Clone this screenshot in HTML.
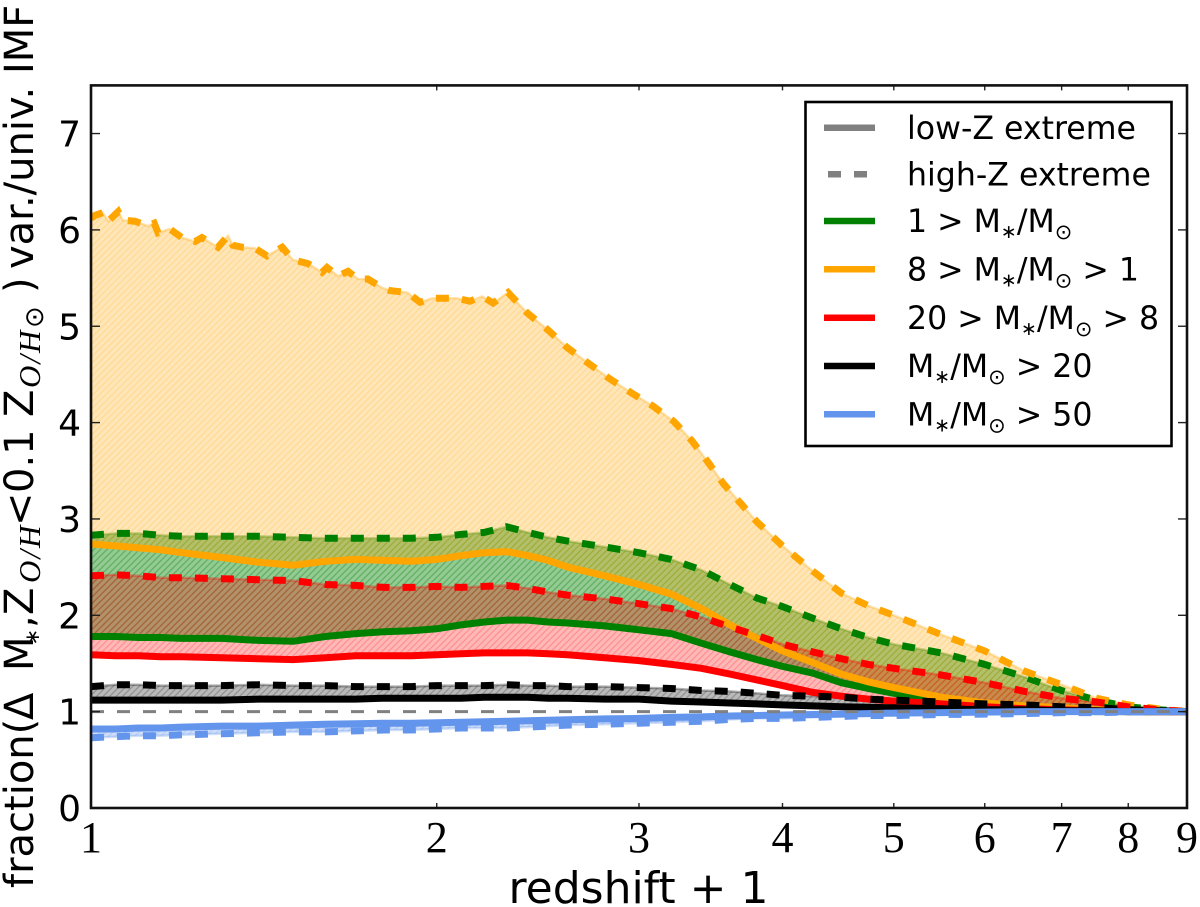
<!DOCTYPE html>
<html lang="en">
<head>
<meta charset="utf-8">
<title>Fraction of stellar mass by redshift</title>
<style>
html,body{margin:0;padding:0;background:#fff;width:1200px;height:907px;overflow:hidden}
svg{display:block;position:absolute;left:0;top:0}
text{font-family:"DejaVu Sans","Liberation Sans",sans-serif;fill:#000}
.xt{font-family:"Liberation Serif",serif;font-size:44px;text-anchor:middle}
.yt{font-size:36px;text-anchor:end}
.lg{font-size:31.6px}
.sub{font-size:21px}
.st{font-size:19px}
.it{font-family:"Liberation Serif",serif;font-style:italic;font-size:31px;letter-spacing:2px}
</style>
</head>
<body>
<svg id="chart" width="1200" height="907" viewBox="0 0 1200 907" xmlns="http://www.w3.org/2000/svg">
<defs>
<clipPath id="axes-clip"><rect x="91" y="85.4" width="1096" height="722.6"/></clipPath>
<pattern id="h-green" patternUnits="userSpaceOnUse" width="6.5" height="6.5"><rect width="6.5" height="6.5" fill="#008000" fill-opacity="0.42"/><path d="M-1,1 l2,-2 M0,6.5 l6.5,-6.5 M5.5,7.5 l2,-2" stroke="#008000" stroke-opacity="0.32" stroke-width="1.4"/></pattern>
<pattern id="h-orange" patternUnits="userSpaceOnUse" width="6.5" height="6.5"><rect width="6.5" height="6.5" fill="#ffa500" fill-opacity="0.28"/><path d="M-1,1 l2,-2 M0,6.5 l6.5,-6.5 M5.5,7.5 l2,-2" stroke="#ffa500" stroke-opacity="0.18" stroke-width="1.4"/></pattern>
<pattern id="h-red" patternUnits="userSpaceOnUse" width="6.5" height="6.5"><rect width="6.5" height="6.5" fill="#ff0000" fill-opacity="0.28"/><path d="M-1,1 l2,-2 M0,6.5 l6.5,-6.5 M5.5,7.5 l2,-2" stroke="#ff0000" stroke-opacity="0.2" stroke-width="1.4"/></pattern>
<pattern id="h-black" patternUnits="userSpaceOnUse" width="6.5" height="6.5"><rect width="6.5" height="6.5" fill="#000" fill-opacity="0.27"/><path d="M-1,1 l2,-2 M0,6.5 l6.5,-6.5 M5.5,7.5 l2,-2" stroke="#000" stroke-opacity="0.2" stroke-width="1.4"/></pattern>
<pattern id="h-blue" patternUnits="userSpaceOnUse" width="6.5" height="6.5"><rect width="6.5" height="6.5" fill="#6495ed" fill-opacity="0.3"/><path d="M-1,1 l2,-2 M0,6.5 l6.5,-6.5 M5.5,7.5 l2,-2" stroke="#6495ed" stroke-opacity="0.2" stroke-width="1.4"/></pattern>
</defs>
<rect x="91" y="85.4" width="1096" height="722.6" fill="#fff"/>
<g id="bands" clip-path="url(#axes-clip)"></g>
<g id="lines" clip-path="url(#axes-clip)"></g>
<g id="ticks"></g>
<rect x="91" y="85.4" width="1096" height="722.6" fill="none" stroke="#111" stroke-width="2.6"/>
<g id="tick-labels"></g>

<text x="638.5" y="903" font-size="44" text-anchor="middle">redshift + 1</text>

<text transform="translate(33,887) rotate(-90)" font-size="40"><tspan x="-1" y="0">fraction(</tspan><tspan x="167" y="0">Δ</tspan><tspan x="216" y="0">M</tspan><tspan x="241.5" y="6" font-size="20">∗</tspan><tspan x="259" y="0">,</tspan><tspan x="272" y="0">Z</tspan><tspan class="it" x="304" y="7">O/H</tspan><tspan x="361" y="0">&lt;</tspan><tspan x="394" y="0">0.1</tspan><tspan x="470" y="0">Z</tspan><tspan class="it" x="499" y="7">O/H</tspan><tspan x="559" y="10" font-size="26">⊙</tspan><tspan x="594" y="0">)</tspan><tspan x="618" y="0">var./univ. IMF</tspan></text>

<g>
<rect x="805.5" y="102" width="366" height="344" fill="#fff" stroke="#000" stroke-width="2.6"/>
<g><line x1="824" x2="875" y1="127.7" y2="127.7" stroke="#808080" stroke-width="6.5"/><text class="lg" x="907" y="139">low-Z extreme</text></g>
<g><line x1="828" x2="868" y1="174.3" y2="174.3" stroke="#808080" stroke-width="6.5" stroke-dasharray="13 13"/><text class="lg" x="907" y="185.5">high-Z extreme</text></g>
<g><line x1="824" x2="875" y1="221" y2="221" stroke="#008000" stroke-width="6.5"/><text class="lg" x="907" y="232">1 &gt; M<tspan class="st" dy="6">∗</tspan><tspan dy="-6">/M</tspan><tspan class="sub" dy="7">⊙</tspan></text></g>
<g><line x1="824" x2="875" y1="269.3" y2="269.3" stroke="#ffa500" stroke-width="6.5"/><text class="lg" x="907" y="280.5">8 &gt; M<tspan class="st" dy="6">∗</tspan><tspan dy="-6">/M</tspan><tspan class="sub" dy="7">⊙</tspan><tspan dy="-7"> &gt; 1</tspan></text></g>
<g><line x1="824" x2="875" y1="317.7" y2="317.7" stroke="#ff0000" stroke-width="6.5"/><text class="lg" x="907" y="329">20 &gt; M<tspan class="st" dy="6">∗</tspan><tspan dy="-6">/M</tspan><tspan class="sub" dy="7">⊙</tspan><tspan dy="-7"> &gt; 8</tspan></text></g>
<g><line x1="824" x2="875" y1="366" y2="366" stroke="#000" stroke-width="6.5"/><text class="lg" x="907" y="377">M<tspan class="st" dy="6">∗</tspan><tspan dy="-6">/M</tspan><tspan class="sub" dy="7">⊙</tspan><tspan dy="-7"> &gt; 20</tspan></text></g>
<g><line x1="824" x2="875" y1="414.3" y2="414.3" stroke="#6495ed" stroke-width="6.5"/><text class="lg" x="907" y="425.5">M<tspan class="st" dy="6">∗</tspan><tspan dy="-6">/M</tspan><tspan class="sub" dy="7">⊙</tspan><tspan dy="-7"> &gt; 50</tspan></text></g>
</g>
</svg>
<script>
const redshiftPlusOne = [1,1.05,1.1,1.15,1.2,1.3,1.4,1.5,1.6,1.7,1.8,1.9,2,2.1,2.2,2.3,2.4,2.5,2.6,2.8,3,3.2,3.4,3.6,3.8,4,4.25,4.5,4.75,5,5.5,6,6.5,7,7.5,8,8.5,9];
const orangeDashedRedshift = [1,1.008,1.024,1.035,1.056,1.066,1.092,1.121,1.135,1.144,1.171,1.2,1.232,1.249,1.29,1.316,1.329,1.354,1.389,1.423,1.467,1.499,1.545,1.589,1.605,1.641,1.674,1.708,1.742,1.792,1.821,1.885,1.934,1.981,2.083,2.138,2.19,2.239,2.307,2.397,2.5,2.597,2.708,2.825,2.953,3.086,3.218,3.336,3.445,3.551,3.673,3.8,4,4.25,4.5,4.75,5,5.5,6,6.5,7,7.5,8,8.5,9];
const xTickValues = [1,2,3,4,5,6,7,8,9];
const yTickValues = [0,1,2,3,4,5,6,7];
const referenceLevel = [1,1];
const greenSolid = [1.78,1.78,1.77,1.77,1.76,1.76,1.74,1.73,1.78,1.81,1.83,1.84,1.86,1.90,1.93,1.95,1.95,1.93,1.92,1.89,1.85,1.81,1.71,1.62,1.54,1.47,1.40,1.30,1.24,1.19,1.10,1.05,1.02,1.01,1,1,1,1];
const greenDashed = [2.83,2.85,2.85,2.83,2.82,2.82,2.82,2.81,2.80,2.80,2.80,2.80,2.81,2.84,2.86,2.92,2.86,2.81,2.77,2.71,2.65,2.58,2.47,2.32,2.18,2.09,1.97,1.86,1.77,1.70,1.61,1.49,1.36,1.22,1.12,1.05,1.02,1];
const orangeSolid = [2.74,2.72,2.70,2.68,2.65,2.60,2.55,2.52,2.56,2.58,2.57,2.56,2.58,2.62,2.65,2.66,2.62,2.57,2.50,2.41,2.32,2.22,2.07,1.90,1.76,1.63,1.51,1.39,1.31,1.25,1.15,1.09,1.06,1.04,1.02,1.01,1,1];
const orangeDashed = [6.12,6.15,6.18,6.09,6.19,6.10,6.09,6.04,6.07,5.97,6.01,5.92,5.88,5.92,5.82,5.94,5.84,5.82,5.81,5.73,5.82,5.69,5.65,5.56,5.61,5.52,5.57,5.49,5.49,5.40,5.37,5.35,5.25,5.29,5.29,5.26,5.31,5.24,5.35,5.14,4.96,4.78,4.62,4.46,4.31,4.17,4.01,3.81,3.59,3.37,3.17,2.97,2.72,2.46,2.23,2.10,2.00,1.80,1.63,1.42,1.28,1.14,1.07,1.03,1];
const redSolid = [1.59,1.58,1.58,1.57,1.57,1.56,1.55,1.54,1.56,1.58,1.58,1.58,1.59,1.60,1.61,1.61,1.61,1.60,1.59,1.56,1.53,1.49,1.45,1.39,1.33,1.27,1.20,1.16,1.13,1.11,1.08,1.05,1.03,1.02,1.01,1,1,1];
const redDashed = [2.41,2.42,2.41,2.39,2.39,2.38,2.37,2.36,2.32,2.31,2.29,2.29,2.30,2.29,2.30,2.31,2.28,2.24,2.21,2.17,2.12,2.07,1.98,1.88,1.79,1.70,1.62,1.55,1.49,1.45,1.38,1.30,1.21,1.14,1.10,1.05,1.02,1];
const blackSolid = [1.12,1.12,1.12,1.12,1.12,1.12,1.13,1.13,1.13,1.13,1.14,1.14,1.14,1.14,1.15,1.15,1.15,1.14,1.14,1.13,1.13,1.11,1.10,1.09,1.08,1.07,1.06,1.05,1.045,1.04,1.03,1.02,1.02,1.01,1.01,1,1,1];
const blackDashed = [1.26,1.28,1.28,1.27,1.27,1.27,1.28,1.27,1.27,1.26,1.26,1.26,1.27,1.27,1.27,1.28,1.27,1.27,1.26,1.26,1.25,1.24,1.22,1.21,1.19,1.17,1.16,1.15,1.13,1.12,1.10,1.08,1.07,1.05,1.04,1.02,1.01,1];
const blueDashed = [0.73,0.74,0.75,0.75,0.76,0.77,0.78,0.79,0.79,0.80,0.81,0.81,0.82,0.83,0.83,0.83,0.84,0.85,0.86,0.87,0.88,0.89,0.90,0.92,0.93,0.93,0.94,0.95,0.96,0.96,0.97,0.975,0.98,0.99,0.99,0.995,1,1];
const blueSolid = [0.82,0.82,0.83,0.83,0.84,0.85,0.85,0.86,0.87,0.875,0.88,0.88,0.885,0.89,0.895,0.90,0.905,0.91,0.915,0.925,0.93,0.94,0.945,0.955,0.96,0.965,0.97,0.975,0.98,0.985,0.99,0.995,1,1,1,1,1,1];

const NS = 'http://www.w3.org/2000/svg';
const X0 = 91, X1 = 1187, Y0 = 808, YU = 96.35;
function xAxis(v){ return X0 + (X1 - X0) * Math.log(v) / Math.log(9); }
function yAxis(v){ return Y0 - YU * v; }
function linePath(xs, ys){
  return xs.map(function(v, i){ return (i ? 'L' : 'M') + xAxis(v).toFixed(1) + ',' + yAxis(ys[i]).toFixed(1); }).join(' ');
}
function bandPath(xsA, a, xsB, b){
  let d = linePath(xsA, a);
  for (let i = xsB.length - 1; i >= 0; i--) d += ' L' + xAxis(xsB[i]).toFixed(1) + ',' + yAxis(b[i]).toFixed(1);
  return d + ' Z';
}
const bandsG = document.getElementById('bands');
const linesG = document.getElementById('lines');
const ticksG = document.getElementById('ticks');
const labelsG = document.getElementById('tick-labels');

function drawSeries(key, color, solidVals, dashedVals, dashedXs){
  const band = document.createElementNS(NS, 'path');
  
  
  band.setAttribute('d', bandPath(dashedXs, dashedVals, redshiftPlusOne, solidVals));
  band.setAttribute('fill', 'url(#h-' + key + ')');
  band.setAttribute('stroke', color);
  band.setAttribute('stroke-opacity', '0.3');
  band.setAttribute('stroke-width', '2.5');
  bandsG.appendChild(band);

  const solid = document.createElementNS(NS, 'path');
  
  
  solid.setAttribute('d', linePath(redshiftPlusOne, solidVals));
  solid.setAttribute('fill', 'none');
  solid.setAttribute('stroke', color);
  solid.setAttribute('stroke-width', '7');
  linesG.appendChild(solid);

  const dashed = document.createElementNS(NS, 'path');
  
  
  dashed.setAttribute('d', linePath(dashedXs, dashedVals));
  dashed.setAttribute('fill', 'none');
  dashed.setAttribute('stroke', color);
  dashed.setAttribute('stroke-width', '7');
  dashed.setAttribute('stroke-dasharray', '13 13');
  linesG.appendChild(dashed);
}
drawSeries('green', '#008000', greenSolid, greenDashed, redshiftPlusOne);
drawSeries('orange', '#ffa500', orangeSolid, orangeDashed, orangeDashedRedshift);
drawSeries('red', '#ff0000', redSolid, redDashed, redshiftPlusOne);
drawSeries('black', '#000000', blackSolid, blackDashed, redshiftPlusOne);
drawSeries('blue', '#6495ed', blueSolid, blueDashed, redshiftPlusOne);

const refLine = document.createElementNS(NS, 'path');


refLine.setAttribute('d', linePath([1, 9], referenceLevel));
refLine.setAttribute('fill', 'none');
refLine.setAttribute('stroke', '#808080');
refLine.setAttribute('stroke-width', '3');
refLine.setAttribute('stroke-dasharray', '13 13');
linesG.appendChild(refLine);

function addTick(parent, x1, y1, x2, y2, name){
  const t = document.createElementNS(NS, 'line');
  
  
  t.setAttribute('x1', x1);
  t.setAttribute('y1', y1);
  t.setAttribute('x2', x2);
  t.setAttribute('y2', y2);
  t.setAttribute('stroke', '#222');
  t.setAttribute('stroke-width', '1.4');
  parent.appendChild(t);
}
xTickValues.forEach(function(v){
  const px = xAxis(v);
  addTick(ticksG, px, Y0, px, Y0 - 5, 'x-tick');
  addTick(ticksG, px, 85.4, px, 90.4, 'x-tick-top');
  const l = document.createElementNS(NS, 'text');
  
  
  l.setAttribute('class', 'xt');
  l.setAttribute('x', px);
  l.setAttribute('y', 852);
  l.textContent = String(v);
  labelsG.appendChild(l);
});
yTickValues.forEach(function(v){
  const py = yAxis(v);
  addTick(ticksG, X0, py, X0 + 9, py, 'y-tick');
  addTick(ticksG, X1, py, X1 - 9, py, 'y-tick-right');
  const l = document.createElementNS(NS, 'text');
  
  
  l.setAttribute('class', 'yt');
  l.setAttribute('x', 81);
  l.setAttribute('y', py + 13);
  l.textContent = String(v);
  labelsG.appendChild(l);
});
</script>
</body>
</html>
